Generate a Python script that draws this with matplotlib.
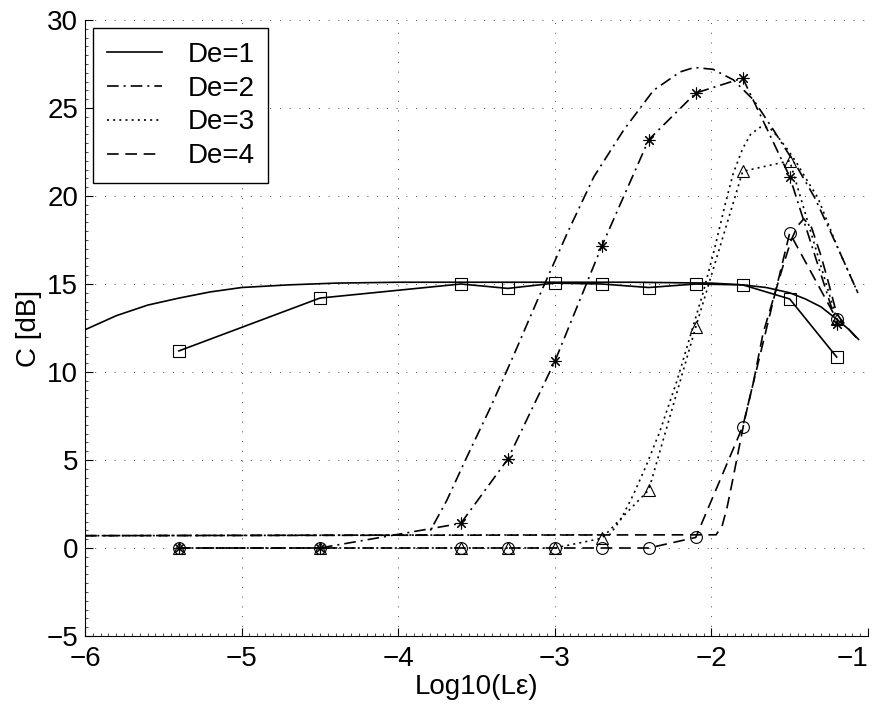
import matplotlib
matplotlib.use("Agg")
import matplotlib.pyplot as plt
from matplotlib.ticker import MultipleLocator

plt.rcParams["font.family"] = ["Liberation Sans", "DejaVu Sans"]

# theory curves
th1_x = [-6.0, -5.8, -5.6, -5.4, -5.2, -5.0, -4.7, -4.4, -4.0, -3.5, -3.0, -2.5,
         -2.0, -1.8, -1.65, -1.5, -1.4, -1.3, -1.2, -1.12, -1.06]
th1_y = [12.4, 13.2, 13.8, 14.2, 14.55, 14.8, 14.95, 15.05, 15.1, 15.1, 15.1, 15.1,
         15.05, 14.95, 14.8, 14.5, 14.15, 13.7, 13.0, 12.4, 11.85]

th2_x = [-6.0, -3.81, -3.69, -3.56, -3.41, -3.27, -3.11, -2.92, -2.75, -2.56, -2.37,
         -2.2, -2.11, -1.99, -1.86, -1.73, -1.6, -1.45, -1.34, -1.2, -1.06]
th2_y = [0.7, 0.74, 2.7, 5.2, 8.0, 10.8, 14.1, 17.9, 21.1, 23.75, 26.0,
         27.05, 27.3, 27.2, 26.6, 25.45, 23.7, 21.6, 19.9, 17.2, 14.4]

th3_x = [-6.0, -2.65, -2.58, -2.5, -2.42, -2.33, -2.22, -2.13, -2.05, -1.98, -1.91,
         -1.86, -1.8, -1.75, -1.69, -1.63, -1.57, -1.51, -1.45, -1.39, -1.32, -1.2, -1.06]
th3_y = [0.7, 0.75, 1.6, 3.0, 4.6, 6.6, 9.5, 12.2, 14.6, 17.0, 19.6,
         21.3, 22.7, 23.5, 23.9, 23.9, 23.3, 22.6, 21.8, 20.9, 19.9, 17.2, 14.4]

th4_x = [-6.0, -1.97, -1.93, -1.9, -1.87, -1.83, -1.79, -1.73, -1.67, -1.6, -1.54,
         -1.49, -1.45, -1.41, -1.36, -1.3, -1.25, -1.2, -1.13, -1.06]
th4_y = [0.7, 0.75, 1.3, 2.3, 3.6, 5.4, 7.2, 9.5, 12.2, 14.3, 16.1,
         17.5, 18.3, 18.7, 18.2, 16.6, 15.0, 13.3, 12.5, 11.8]

# simulated points
xd = [-5.4, -4.5, -3.6, -3.3, -3.0, -2.7, -2.4, -2.1, -1.8, -1.5, -1.2]
d1 = [11.2, 14.2, 15.0, 14.75, 15.05, 15.0, 14.8, 15.0, 14.95, 14.15, 10.85]
d2 = [0.0, 0.0, 1.4, 5.05, 10.6, 17.15, 23.2, 25.85, 26.7, 21.1, 12.75]
d3 = [0.0, 0.0, 0.0, 0.0, 0.0, 0.55, 3.3, 12.55, 21.4, 22.0, 13.0]
d4 = [0.0, 0.0, 0.0, 0.0, 0.0, 0.0, 0.0, 0.6, 6.9, 17.9, 13.0]

labels = ["De=1", "De=2", "De=3", "De=4"]
xticks = [-6, -5, -4, -3, -2, -1]
xticklabels = ["\u22126", "\u22125", "\u22124", "\u22123", "\u22122", "\u22121"]

solid = "-"
dashdot = (0, (7, 3, 1.2, 3))
dotted = (0, (1.2, 2.5))
dashed = (0, (7, 4))

fig = plt.figure(figsize=(8.72, 7.08), dpi=100)
ax = fig.add_axes([85 / 872, 72 / 708, 783 / 872, 616 / 708])

lw = 1.2
ax.plot(th1_x, th1_y, color="k", lw=lw, linestyle=solid, label=labels[0])
ax.plot(th2_x, th2_y, color="k", lw=lw, linestyle=dashdot, label=labels[1])
ax.plot(th3_x, th3_y, color="k", lw=lw, linestyle=dotted, label=labels[2])
ax.plot(th4_x, th4_y, color="k", lw=lw, linestyle=dashed, label=labels[3])

mk = dict(color="k", lw=lw, markersize=8.5, mfc="none", mew=0.8)
ax.plot(xd, d1, linestyle=solid, marker="s", **mk)
ax.plot(xd, d2, linestyle=dashdot, marker=(8, 2, 0), **mk)
ax.plot(xd, d3, linestyle=dotted, marker="^", **mk)
ax.plot(xd, d4, linestyle=dashed, marker="o", **mk)

ax.set_xlim(-6, -1)
ax.set_ylim(-5, 30)
ax.set_xticks(xticks)
tl = ax.set_xticklabels(xticklabels)
tl[-1].set_horizontalalignment("right")  # keep "-1" inside the picture
ax.yaxis.set_major_locator(MultipleLocator(5))
ax.xaxis.set_minor_locator(MultipleLocator(0.05))
ax.yaxis.set_minor_locator(MultipleLocator(0.5))
ax.grid(True, which="major", color="0.3", lw=0.7, linestyle=(0, (1, 9)))

ax.spines["top"].set_visible(False)
ax.spines["right"].set_visible(False)
ax.tick_params(which="major", direction="in", length=6, width=0.8, labelsize=20)
ax.tick_params(which="minor", direction="in", length=2, width=0.5)
ax.tick_params(axis="x", pad=7)
ax.tick_params(axis="y", pad=5)

ax.set_xlabel("Log10(L\u03b5)", fontsize=20, labelpad=2)
ax.set_ylabel("C [dB]", fontsize=20, labelpad=3)

leg = ax.legend(loc="upper left", bbox_to_anchor=(93 / 872, 1 - 28 / 708),
                bbox_transform=fig.transFigure, borderaxespad=0, fontsize=20,
                handlelength=2.0, handletextpad=0.9, labelspacing=0.28,
                borderpad=0.5, fancybox=False, framealpha=1, edgecolor="k")
leg.get_frame().set_linewidth(1.0)

fig.savefig("out.png", dpi=100)
